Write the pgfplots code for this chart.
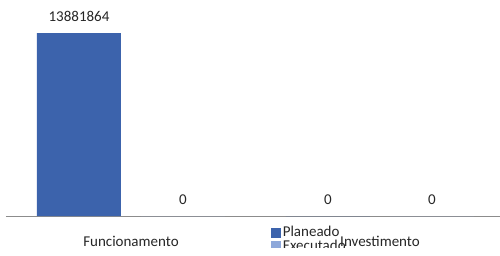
\documentclass[border=0pt]{standalone}
\usepackage{fontspec}
\setmainfont{Carlito}
\usepackage{pgfplots}
\pgfplotsset{compat=1.18}
\definecolor{plan}{HTML}{3C63AC}
\definecolor{exec}{HTML}{8EA8DA}
\definecolor{axgray}{HTML}{8C8C8C}
\begin{document}
\begin{tikzpicture}[x=1pt,y=1pt]
\path[use as bounding box] (0,0) rectangle (500,255);
\clip (0,8) rectangle (500,255);
\begin{axis}[
  at={(6pt,39pt)}, anchor=south west,
  scale only axis, width=494pt, height=183pt,
  xmin=-0.502, xmax=1.482, ymin=0, ymax=13881864,
  enlargelimits=false,
  axis x line=bottom, axis y line=none,
  axis line style={-, draw=axgray, line width=0.9pt},
  xtick={0,1}, xticklabels={Funcionamento,Investimento},
  major tick length=0pt,
  xticklabel style={anchor=base, yshift=-30pt, inner sep=0pt, font=\fontsize{15}{15}\selectfont, text=black!85},
  ybar, bar width=84pt,
  nodes near coords, point meta=explicit symbolic,
  every node near coord/.append style={anchor=base, yshift=11.5pt, inner sep=0pt, font=\fontsize{15}{15}\selectfont, text=black!85},
  clip=false,
  legend style={at={(0.536,-0.060)}, anchor=north west, draw=none, fill=none,
    inner sep=0pt, outer sep=0pt, font=\fontsize{15}{13}\selectfont, row sep=0.5pt, column sep=2pt,
    nodes={inner sep=0pt, text height=10pt, text depth=3pt, anchor=base west, text=black!85}},
]
\addplot[fill=plan, draw=none, bar shift=-52pt,
  legend image code/.code={\fill[plan] (0pt,-1pt) rectangle (10pt,9pt);}]
  coordinates {(0,13881864) [13881864] (1,0) [0]};
\addplot[fill=exec, draw=none, bar shift=52pt,
  legend image code/.code={\fill[exec] (0pt,-1pt) rectangle (10pt,9pt);}]
  coordinates {(0,0) [0] (1,0) [0]};
\legend{Planeado,Executado}
\end{axis}
\end{tikzpicture}
\end{document}
